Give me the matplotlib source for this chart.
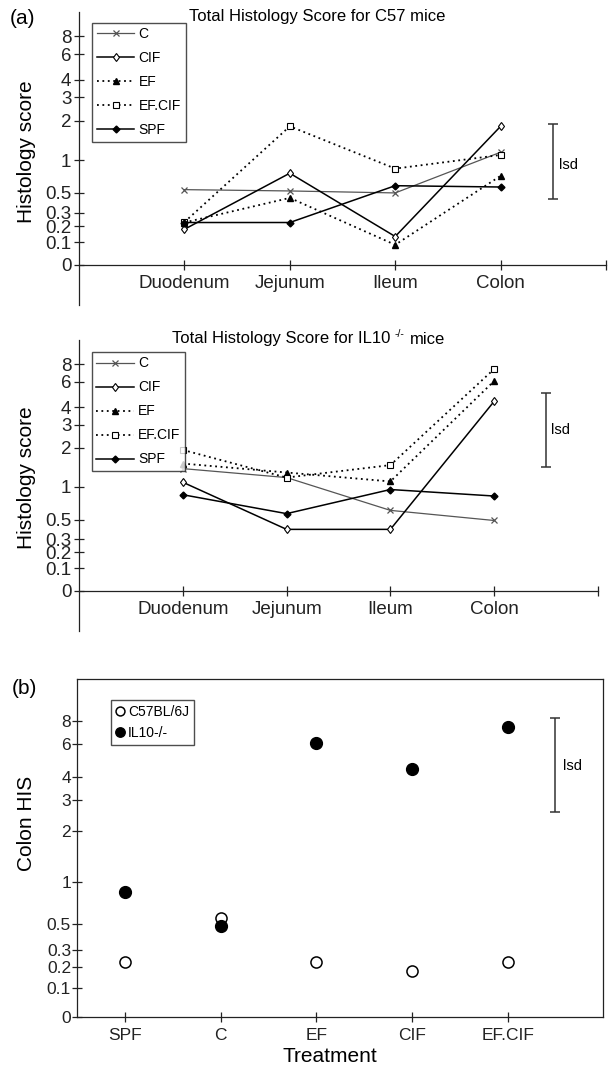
import numpy as np
import matplotlib
matplotlib.use('Agg')
import matplotlib.pyplot as plt

plt.rcParams['font.family'] = ['Liberation Sans', 'DejaVu Sans']

# ---- data ----
sites = ['Duodenum', 'Jejunum', 'Ileum', 'Colon']
groups = ['C', 'CIF', 'EF', 'EF.CIF', 'SPF']

c57_C = [0.55, 0.53, 0.50, 1.20]
c57_CIF = [0.18, 0.80, 0.135, 1.86]
c57_EF = [0.227, 0.45, 0.088, 0.76]
c57_EFCIF = [0.23, 1.86, 0.87, 1.13]
c57_SPF = [0.227, 0.227, 0.61, 0.59]

il10_C = [1.47, 1.24, 0.64, 0.49]
il10_CIF = [1.12, 0.40, 0.40, 4.46]
il10_EF = [1.60, 1.37, 1.14, 6.10]
il10_EFCIF = [1.95, 1.24, 1.56, 7.45]
il10_SPF = [0.88, 0.59, 0.96, 0.86]

treatments = ['SPF', 'C', 'EF', 'CIF', 'EF.CIF']
colon_c57 = [0.23, 0.57, 0.23, 0.18, 0.23]
colon_il10 = [0.88, 0.49, 6.13, 4.49, 7.53]

lsd_c57 = [0.44, 1.92]
lsd_il10 = [1.5, 5.1]
lsd_colon = [2.62, 8.5]

ytick_vals = [0, 0.1, 0.2, 0.3, 0.5, 1, 2, 3, 4, 6, 8]

# ---- the odd y axis of the paper: compressed log-like scale, tick spacing taken from the figure ----
_V = [-1, 0, 0.1, 0.2, 0.3, 0.5, 1, 2, 3, 4, 6, 8, 16]
_P = [-2.16, 0, 0.216, 0.369, 0.496, 0.686, 1, 1.375, 1.600, 1.769, 2.012, 2.183, 2.603]

def fwd(v):
    return np.interp(v, _V, _P)

def inv(p):
    return np.interp(p, _P, _V)

style = {
    'C': dict(marker='x', ls='-', color='#555555', ms=5, mew=0.9, lw=0.9),
    'CIF': dict(marker='d', ls='-', color='black', mfc='white', ms=4.5, mew=0.8, lw=1.1),
    'EF': dict(marker='^', ls=(0, (1, 2)), color='black', ms=5, lw=1.3),
    'EF.CIF': dict(marker='s', ls=(0, (1, 2)), color='black', mfc='white', ms=4, mew=0.8, lw=1.3),
    'SPF': dict(marker='D', ls='-', color='black', ms=3.5, lw=1.1),
}

W, H = 611, 1071
fig = plt.figure(figsize=(W / 100, H / 100), dpi=100)

def px_axes(l, r, t, b):
    return fig.add_axes([l / W, 1 - b / H, (r - l) / W, (b - t) / H])

def setup_y(ax, lo, hi):
    ax.set_yscale('function', functions=(fwd, inv))
    ax.set_ylim(lo, hi)
    ax.set_yticks(ytick_vals)
    ax.set_yticklabels([('%g' % v) for v in ytick_vals])
    ax.minorticks_off()

def lsd_bar(ax, x, lo_hi):
    ax.errorbar([x], [np.mean(lo_hi)], yerr=[[np.mean(lo_hi) - lo_hi[0]], [lo_hi[1] - np.mean(lo_hi)]],
                fmt='none', ecolor='#333333', elinewidth=1.1, capsize=3.5, capthick=1.1)

def line_panel(ax, series, lsd, legend_xy):
    x = np.arange(1, len(sites) + 1)
    for name, vals in zip(groups, series):
        ax.plot(x, vals, label=name, **style[name])
    setup_y(ax, inv(-0.385), inv(2.415))
    ax.set_xlim(0, 5)
    ax.set_xticks([1, 2, 3, 4, 5])
    ax.set_xticklabels(sites + [''])
    ax.tick_params(direction='inout', length=7, width=0.9, colors='#222222')
    ax.tick_params(axis='y', labelsize=13.5, pad=2)
    ax.tick_params(axis='x', labelsize=13.5, pad=4)
    for s in ['top', 'right']:
        ax.spines[s].set_visible(False)
    ax.spines['bottom'].set_position(('data', 0))
    for s in ['left', 'bottom']:
        ax.spines[s].set_color('#222222')
        ax.spines[s].set_linewidth(0.9)
    lsd_bar(ax, 4.5, lsd)
    ax.text(4.55, np.sqrt(lsd[0] * lsd[1]), 'lsd', fontsize=10.5, va='center', ha='left')
    leg = ax.legend(loc='upper left', bbox_to_anchor=(legend_xy[0] / W, 1 - legend_xy[1] / H),
                    bbox_transform=fig.transFigure, fontsize=10, frameon=True, fancybox=False,
                    edgecolor='#222222', handlelength=2.7, handletextpad=0.3, labelspacing=0.72,
                    borderpad=0.35, borderaxespad=0)
    leg.get_frame().set_linewidth(1.0)

# ---- (a) top: C57 ----
ax1 = px_axes(79, 606, 12, 305)
line_panel(ax1, [c57_C, c57_CIF, c57_EF, c57_EFCIF, c57_SPF], lsd_c57, (92, 22.5))
fig.text(317 / W, 1 - 16 / H, 'Total Histology Score for C57 mice', fontsize=12, ha='center', va='center')
fig.text(26 / W, 1 - 152 / H, 'Histology score', fontsize=15, rotation=90, ha='center', va='center')
fig.text(10 / W, 1 - 18 / H, '(a)', fontsize=15, ha='left', va='center')

# ---- (a) middle: IL10-/- ----
ax2 = px_axes(79, 598, 340, 630.7)
line_panel(ax2, [il10_C, il10_CIF, il10_EF, il10_EFCIF, il10_SPF], lsd_il10, (91.5, 351.5))
fig.text(172 / W, 1 - 339 / H, 'Total Histology Score for IL10', fontsize=12, ha='left', va='center')
fig.text(395 / W, 1 - 334 / H, '-/-', fontsize=7.5, ha='left', va='center')
fig.text(410 / W, 1 - 339 / H, 'mice', fontsize=12, ha='left', va='center')
fig.text(26 / W, 1 - 478 / H, 'Histology score', fontsize=15, rotation=90, ha='center', va='center')

# ---- (b) colon HIS ----
ax3 = px_axes(77.3, 603.3, 678.7, 1017.3)
xt = np.arange(1, len(treatments) + 1)
ax3.plot(xt, colon_c57, 'o', ms=8, mfc='white', mec='black', mew=1.1, ls='none', label='C57BL/6J')
ax3.plot(xt, colon_il10, 'o', ms=8.5, color='black', ls='none', label='IL10-/-')
setup_y(ax3, 0, inv(2.497))
ax3.set_xlim(0.5, 6.0)
ax3.set_xticks(xt)
ax3.set_xticklabels(treatments)
ax3.tick_params(direction='inout', length=7, width=0.9, colors='#222222')
ax3.tick_params(axis='y', labelsize=12.5, pad=1)
ax3.tick_params(axis='x', labelsize=12.5, pad=4)
for s in ax3.spines.values():
    s.set_color('#222222')
    s.set_linewidth(0.9)
lsd_bar(ax3, 5.5, lsd_colon)
ax3.text(5.58, np.sqrt(lsd_colon[0] * lsd_colon[1]), 'lsd', fontsize=10.5, va='center', ha='left')
fig.text(330 / W, 1 - 1057 / H, 'Treatment', fontsize=15, ha='center', va='center')
fig.text(27 / W, 1 - 823 / H, 'Colon HIS', fontsize=15, rotation=90, ha='center', va='center')
fig.text(12 / W, 1 - 689 / H, '(b)', fontsize=15, ha='left', va='center')
leg = ax3.legend(loc='upper left', bbox_to_anchor=(110.7 / W, 1 - 700 / H), bbox_transform=fig.transFigure,
                 fontsize=10, frameon=True, fancybox=False, edgecolor='#222222', handlelength=0.6,
                 handletextpad=0.3, labelspacing=0.5, borderpad=0.35, borderaxespad=0, markerscale=0.8)
leg.get_frame().set_linewidth(1.0)

fig.savefig('out.png', dpi=100)
